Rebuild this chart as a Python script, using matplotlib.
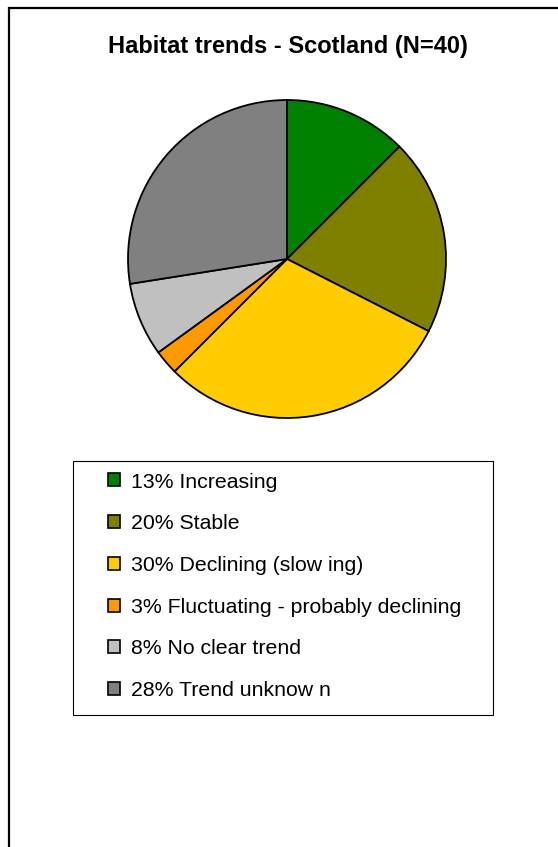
import matplotlib
matplotlib.use("Agg")
import matplotlib.pyplot as plt
from matplotlib.patches import Rectangle, Patch

plt.rcParams['font.family'] = ['Liberation Sans', 'DejaVu Sans']

# Habitat trend categories (number of habitats, N=40)
categories = ["Increasing", "Stable", "Declining (slow ing)",
              "Fluctuating - probably declining", "No clear trend",
              "Trend unknow n"]
counts = [5, 8, 12, 1, 3, 11]
colors = ["#008000", "#808000", "#FFCC00", "#FF9900", "#C0C0C0", "#808080"]
title = "Habitat trends - Scotland (N=40)"

total = sum(counts)
labels = [f"{int(c * 100 / total + 0.5)}% {name}" for c, name in zip(counts, categories)]

W, H = 558, 847
fig = plt.figure(figsize=(W / 100, H / 100), dpi=100)
fig.patch.set_facecolor("white")

# outer chart border (left and top edges visible)
fig.patches.append(Rectangle((8.5 / W, -0.1), 1.2, 1 - 8.5 / H + 0.1,
                             transform=fig.transFigure, fill=False,
                             edgecolor="black", linewidth=1.6))

fig.text(288 / W, 1 - 52.7 / H, title, ha="center", va="baseline",
         fontsize=17, fontweight="bold")

# pie
cx, cy, r = 287, 259, 159
ax = fig.add_axes([(cx - r) / W, 1 - (cy + r) / H, 2 * r / W, 2 * r / H])
ax.pie(counts, colors=colors, startangle=90, counterclock=False,
       wedgeprops=dict(edgecolor="black", linewidth=1.3))
ax.set_xlim(-1, 1)
ax.set_ylim(-1, 1)
ax.set_aspect("equal")
ax.axis("off")

# legend box
fig.patches.append(Rectangle((73 / W, 1 - 715 / H), 420 / W, 254 / H,
                             transform=fig.transFigure, fill=False,
                             edgecolor="black", linewidth=0.8))
handles = [Patch(facecolor=c, edgecolor="black", linewidth=1.2) for c in colors]
leg = fig.legend(handles, labels, loc="upper left",
                 bbox_to_anchor=(108 / W, 1 - 472.5 / H),
                 frameon=False, fontsize=15.3, handlelength=0.565,
                 handleheight=0.565, handletextpad=0.5, labelspacing=1.07,
                 borderpad=0, borderaxespad=0)

fig.savefig("out.png", dpi=100)
